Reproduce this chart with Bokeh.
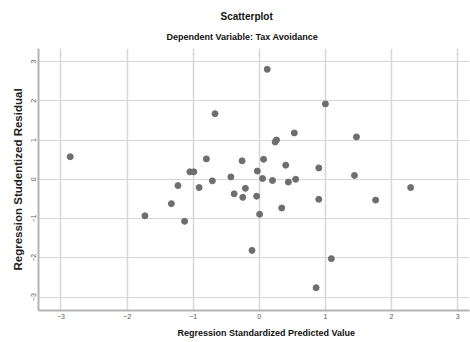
from bokeh.plotting import figure
from bokeh.models import Range1d, FixedTicker, Title, ColumnDataSource
from bokeh.embed import file_html
from bokeh.resources import INLINE

# Data
pred = [-2.86, -1.73, -1.33, -1.23, -1.13, -1.05, -0.99, -0.91, -0.80, -0.71,
        -0.67, -0.43, -0.38, -0.26, -0.25, -0.21, -0.11, -0.04, -0.03, 0.005,
        0.05, 0.065, 0.12, 0.20, 0.24, 0.26, 0.34, 0.40, 0.44, 0.53,
        0.55, 0.86, 0.90, 0.90, 1.00, 1.09, 1.44, 1.47, 1.76, 2.29]
resid = [0.575, -0.93, -0.62, -0.16, -1.07, 0.19, 0.19, -0.21, 0.52, -0.04,
         1.67, 0.06, -0.37, 0.47, -0.46, -0.23, -1.81, -0.43, 0.21, -0.89,
         0.02, 0.51, 2.80, -0.03, 0.95, 1.00, -0.73, 0.36, -0.07, 1.18,
         0.00, -2.76, 0.29, -0.51, 1.92, -2.02, 0.10, 1.08, -0.53, -0.21]
ticks = [-3, -2, -1, 0, 1, 2, 3]

title_text = "Scatterplot"
subtitle_text = "Dependent Variable: Tax Avoidance"
xlabel_text = "Regression Standardized Predicted Value"
ylabel_text = "Regression Studentized Residual"

FONT = "Liberation Sans"

p = figure(width=470, height=342, output_backend="svg", toolbar_location=None,
           x_range=Range1d(-3.34, 3.18), y_range=Range1d(-3.34, 3.33),
           min_border_left=38, min_border_right=1, min_border_top=48, min_border_bottom=31)
p.outline_line_color = None
p.background_fill_color = "white"
p.border_fill_color = "white"

src = ColumnDataSource(dict(x=pred, y=resid))
p.scatter("x", "y", source=src, size=6, fill_color="#6e6e6e", line_color="#6e6e6e")

for ax in (p.xaxis[0], p.yaxis[0]):
    ax.ticker = FixedTicker(ticks=ticks)
    ax.major_tick_out = 0
    ax.major_tick_in = 0
    ax.minor_tick_out = 0
    ax.minor_tick_in = 0
    ax.major_tick_line_color = None
    ax.minor_tick_line_color = None
    ax.axis_line_color = "#b4b4b4"
    ax.axis_line_width = 2
    ax.major_label_text_font = FONT
    ax.major_label_text_font_size = "7px"
    ax.major_label_text_color = "#555555"
    ax.axis_label_text_font = FONT
    ax.axis_label_text_font_style = "bold"
    ax.axis_label_text_color = "#222222"

p.xaxis.major_label_standoff = 3
p.yaxis.axis_label = ylabel_text
p.yaxis.axis_label_text_font_size = "11.5px"
p.yaxis.major_label_standoff = 2
p.yaxis.axis_label_standoff = 5
p.yaxis.major_label_orientation = "vertical"

p.xgrid.ticker = FixedTicker(ticks=ticks)
p.ygrid.ticker = FixedTicker(ticks=ticks)
p.xgrid.grid_line_color = "#d6d6d6"
p.ygrid.grid_line_color = "#d6d6d6"
p.xgrid.grid_line_width = 1.5
p.ygrid.grid_line_width = 1.2

common = dict(text_font=FONT, text_font_style="bold", text_color="#111111", align="left")
p.add_layout(Title(text=subtitle_text, text_font_size="9px", standoff=13, offset=128, **common), "above")
p.add_layout(Title(text=title_text, text_font_size="10px", standoff=4, offset=182, **common), "above")
p.add_layout(Title(text=xlabel_text, text_font_size="9px", standoff=9, offset=139, **common), "below")

open("out.html", "w").write(file_html(p, INLINE))
